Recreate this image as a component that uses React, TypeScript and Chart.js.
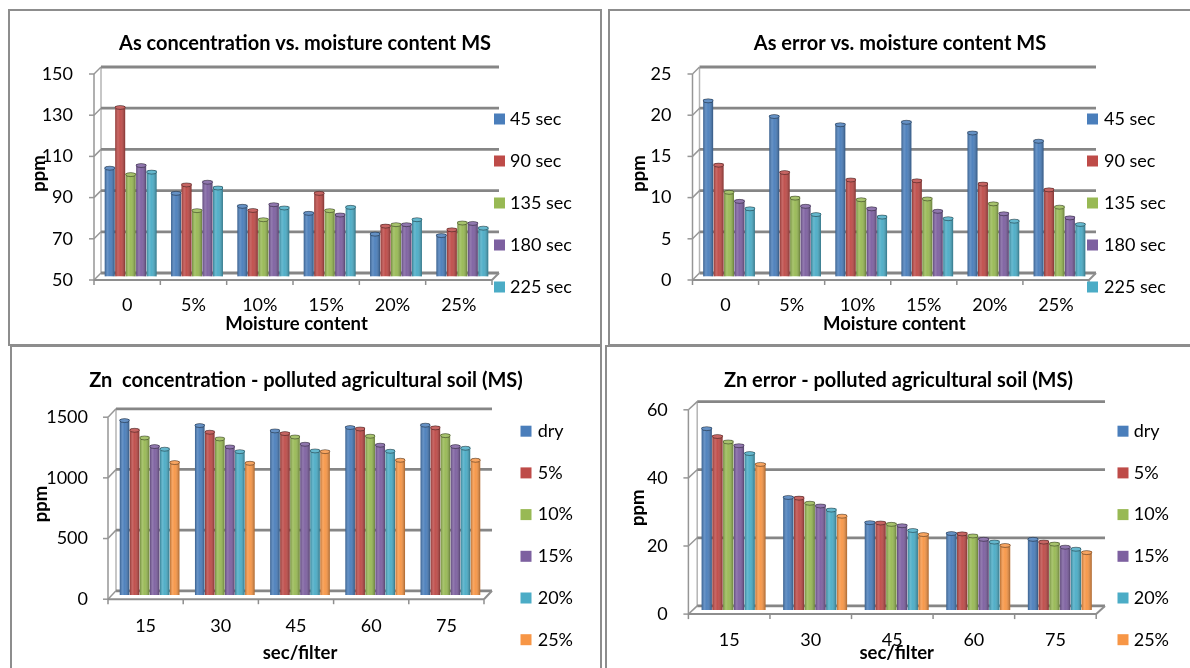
import React, { useEffect, useRef } from 'react';
import { Chart, registerables } from 'chart.js';

Chart.register(...registerables);

// ---------------- data ----------------
const moistureCategories = ['0', '5%', '10%', '15%', '20%', '25%'];
const exposureNames = ['45 sec', '90 sec', '135 sec', '180 sec', '225 sec'];

const asConc45 = [103.3, 91.1, 84.8, 81.4, 71.3, 70.6];
const asConc90 = [132.8, 95.2, 82.8, 91.1, 75.2, 73.4];
const asConc135 = [100.2, 82.7, 78.3, 82.7, 75.9, 76.7];
const asConc180 = [104.6, 96.5, 85.6, 80.6, 75.9, 76.5];
const asConc225 = [101.4, 93.7, 84.0, 84.3, 78.3, 74.2];
const asConcTicks = [50, 150, 20];

const asErr45 = [21.5, 19.6, 18.6, 18.9, 17.6, 16.6];
const asErr90 = [13.7, 12.8, 11.9, 11.8, 11.4, 10.7];
const asErr135 = [10.4, 9.7, 9.5, 9.6, 9.0, 8.6];
const asErr180 = [9.3, 8.7, 8.4, 8.1, 7.8, 7.3];
const asErr225 = [8.4, 7.7, 7.4, 7.2, 6.9, 6.5];
const asErrTicks = [0, 25, 5];

const filterCategories = ['15', '30', '45', '60', '75'];
const moistureNames = ['dry', '5%', '10%', '15%', '20%', '25%'];

const znConcDry = [1450, 1409, 1365, 1393, 1412];
const znConc5 = [1370, 1354, 1343, 1381, 1390];
const znConc10 = [1307, 1299, 1315, 1321, 1326];
const znConc15 = [1236, 1233, 1255, 1247, 1236];
const znConc20 = [1214, 1194, 1200, 1197, 1222];
const znConc25 = [1104, 1098, 1194, 1123, 1123];
const znConcTicks = [0, 1500, 500];

const znErrDry = [53.7, 33.5, 26.1, 22.9, 21.2];
const znErr5 = [51.4, 33.3, 26.0, 22.8, 20.4];
const znErr10 = [49.8, 31.8, 25.6, 22.2, 19.8];
const znErr15 = [48.7, 31.0, 25.2, 21.2, 18.9];
const znErr20 = [46.4, 29.8, 23.8, 20.4, 18.3];
const znErr25 = [43.2, 28.0, 22.6, 19.4, 17.3];
const znErrTicks = [0, 60, 20];

// ---------------- styles ----------------
const SERIES_COLORS = ['#4A7EBB', '#BE4B48', '#98B954', '#7D60A0', '#4BACC6', '#F79646'];
const FONT = 'Lato, "Open Sans", sans-serif';
const TITLE_SIZE = 20;
const AXIS_TITLE_SIZE = 18.5;
const TICK_SIZE = 18;
const LEGEND_SIZE = 18;

type Geo = {
  panel: [number, number, number, number];
  yw: number; pr: number; xh: number;
  titleTop: number; titleBottom: number;
  yTickPad: number; yTitlePad: number;
  xTickPad: number; xTitlePad: number;
  dx: number; dy: number;
  legendBoxX: number; legendTextX: number; legendY: number; legendStep: number;
  catPct: number;
};

type Spec = {
  id: string;
  title: string;
  xTitle: string;
  categories: string[];
  names: string[];
  series: number[][];
  ticks: number[];
  geo: Geo;
};

const specs: Spec[] = [
  {
    id: 'asConc',
    title: 'As concentration vs. moisture content MS',
    xTitle: 'Moisture content',
    categories: moistureCategories,
    names: exposureNames,
    series: [asConc45, asConc90, asConc135, asConc180, asConc225],
    ticks: asConcTicks,
    geo: {
      panel: [8, 9, 594, 337], yw: 87.5, pr: 104.5, xh: 67.5,
      titleTop: 21, titleBottom: 14.5, yTickPad: 24.5, yTitlePad: 17.5,
      xTickPad: 17.7, xTitlePad: 8.9, dx: 3.5, dy: 3.5,
      legendBoxX: 484, legendTextX: 500, legendY: 108, legendStep: 42, catPct: 0.79,
    },
  },
  {
    id: 'asErr',
    title: 'As error vs. moisture content MS',
    xTitle: 'Moisture content',
    categories: moistureCategories,
    names: exposureNames,
    series: [asErr45, asErr90, asErr135, asErr180, asErr225],
    ticks: asErrTicks,
    geo: {
      panel: [608, 9, 584, 337], yw: 86, pr: 97.5, xh: 67.5,
      titleTop: 21, titleBottom: 14.5, yTickPad: 24.5, yTitlePad: 17.6,
      xTickPad: 17.7, xTitlePad: 8.9, dx: 3.5, dy: 3.5,
      legendBoxX: 477, legendTextX: 494, legendY: 108, legendStep: 42, catPct: 0.79,
    },
  },
  {
    id: 'znConc',
    title: 'Zn  concentration - polluted agricultural soil (MS)',
    xTitle: 'sec/filter',
    categories: filterCategories,
    names: moistureNames,
    series: [znConcDry, znConc5, znConc10, znConc15, znConc20, znConc25],
    ticks: znConcTicks,
    geo: {
      panel: [10, 345, 592, 325], yw: 100, pr: 112, xh: 73,
      titleTop: 22, titleBottom: 20, yTickPad: 24, yTitlePad: 18.4,
      xTickPad: 19.9, xTitlePad: 3.6, dx: 4, dy: 4.2,
      legendBoxX: 508.5, legendTextX: 525.7, legendY: 84.2, legendStep: 41.7, catPct: 0.8,
    },
  },
  {
    id: 'znErr',
    title: 'Zn error - polluted agricultural soil (MS)',
    xTitle: 'sec/filter',
    categories: filterCategories,
    names: moistureNames,
    series: [znErrDry, znErr5, znErr10, znErr15, znErr20, znErr25],
    ticks: znErrTicks,
    geo: {
      panel: [605, 345, 587, 325], yw: 85.8, pr: 89.4, xh: 58,
      titleTop: 22, titleBottom: 12.7, yTickPad: 25, yTitlePad: 20.4,
      xTickPad: 19.2, xTitlePad: 3.6, dx: 4.4, dy: 4.1,
      legendBoxX: 510.5, legendTextX: 526.7, legendY: 84.2, legendStep: 41.7, catPct: 0.79,
    },
  },
];

// ---------------- plugins ----------------
function seg(ctx: CanvasRenderingContext2D, x1: number, y1: number, x2: number, y2: number) {
  ctx.beginPath();
  ctx.moveTo(x1, y1);
  ctx.lineTo(x2, y2);
  ctx.stroke();
}

const frame3d = {
  id: 'frame3d',
  beforeDatasetsDraw(chart: any, _args: any, opts: any) {
    const { ctx, chartArea } = chart;
    const { left, right } = chartArea;
    const ys = chart.scales.y;
    const dx = opts.dx, dy = opts.dy;
    const yTop = ys.getPixelForValue(ys.max);
    const yBot = ys.getPixelForValue(ys.min);
    ctx.save();
    ctx.lineCap = 'butt';
    // back wall left edge
    ctx.strokeStyle = '#b4b4b4';
    ctx.lineWidth = 1.5;
    seg(ctx, left + dx, yTop - dy, left + dx, yBot - dy);
    // back-wall gridlines
    ctx.strokeStyle = '#868686';
    ctx.lineWidth = 2.8;
    ys.ticks.forEach((t: any) => {
      const y = ys.getPixelForValue(t.value);
      seg(ctx, left + dx, y - dy, right + dx, y - dy);
    });
    // side connectors + front tick marks
    ctx.strokeStyle = '#969696';
    ctx.lineWidth = 1.5;
    ys.ticks.forEach((t: any) => {
      const y = ys.getPixelForValue(t.value);
      seg(ctx, left - dx, y + dy, left + dx, y - dy);
      seg(ctx, left - dx - 5, y + dy, left - dx, y + dy);
    });
    // front value axis
    seg(ctx, left - dx, yTop + dy, left - dx, yBot + dy);
    // floor front edge and right connector
    ctx.strokeStyle = '#8e8e8e';
    ctx.lineWidth = 2;
    seg(ctx, left - dx, yBot + dy, right - dx, yBot + dy);
    seg(ctx, right - dx, yBot + dy, right + dx, yBot - dy);
    // category tick marks
    ctx.lineWidth = 1.5;
    const n = chart.data.labels.length;
    const cw = (right - left) / n;
    for (let i = 0; i <= n; i++) {
      const x = left - dx + i * cw;
      seg(ctx, x, yBot + dy, x, yBot + dy + 5);
    }
    ctx.restore();
  },
  afterDatasetsDraw(chart: any) {
    const { ctx, chartArea } = chart;
    ctx.save();
    chart.data.datasets.forEach((ds: any, di: number) => {
      const meta = chart.getDatasetMeta(di);
      meta.data.forEach((bar: any) => {
        const p = bar.getProps(['x', 'y', 'base', 'width'], true);
        const x = p.x, y = p.y, width = p.width;
        const base = Math.min(p.base, chartArea.bottom);
        const l = x - width / 2;
        const g = ctx.createLinearGradient(l, 0, l + width, 0);
        g.addColorStop(0, 'rgba(0,0,0,0.25)');
        g.addColorStop(0.28, 'rgba(255,255,255,0.16)');
        g.addColorStop(0.5, 'rgba(255,255,255,0.04)');
        g.addColorStop(1, 'rgba(0,0,0,0.32)');
        ctx.fillStyle = g;
        ctx.fillRect(l, y, width, base - y);
        ctx.beginPath();
        ctx.ellipse(x, y + 1.5, width / 2, 2, 0, 0, Math.PI * 2);
        ctx.fillStyle = ds.backgroundColor;
        ctx.fill();
        ctx.fillStyle = 'rgba(255,255,255,0.15)';
        ctx.fill();
        ctx.strokeStyle = 'rgba(0,0,0,0.4)';
        ctx.lineWidth = 1;
        ctx.stroke();
      });
    });
    ctx.restore();
  },
};

const sideLegend = {
  id: 'sideLegend',
  afterDraw(chart: any, _args: any, opts: any) {
    const { ctx } = chart;
    ctx.save();
    ctx.font = `${LEGEND_SIZE}px ${FONT}`;
    ctx.textBaseline = 'middle';
    ctx.textAlign = 'left';
    chart.data.datasets.forEach((ds: any, i: number) => {
      const cy = opts.y + i * opts.step;
      ctx.fillStyle = ds.backgroundColor;
      ctx.fillRect(opts.boxX, cy - 5.5, 11, 11);
      ctx.fillStyle = '#000';
      ctx.fillText(ds.label, opts.textX, cy);
    });
    ctx.restore();
  },
};

// ---------------- components ----------------
function ChartPanel({ spec }: { spec: Spec }) {
  const ref = useRef<HTMLCanvasElement | null>(null);
  const [pl, pt, pw, ph] = spec.geo.panel;
  const cw = pw - 4;
  const ch = ph - 4;

  useEffect(() => {
    const g = spec.geo;
    const chart = new Chart(ref.current as HTMLCanvasElement, {
      type: 'bar',
      data: {
        labels: spec.categories,
        datasets: spec.series.map((values, i) => ({
          label: spec.names[i],
          data: values,
          base: spec.ticks[0],
          backgroundColor: SERIES_COLORS[i],
          borderWidth: 0,
          barPercentage: 0.95,
          categoryPercentage: g.catPct,
          yAxisID: 'y',
        })),
      },
      options: {
        responsive: false,
        animation: false,
        devicePixelRatio: 1,
        events: [],
        layout: { padding: 0 },
        plugins: {
          legend: { display: false },
          tooltip: { enabled: false },
          title: {
            display: true,
            text: spec.title,
            color: '#000',
            font: { family: FONT, size: TITLE_SIZE, weight: 'bold', lineHeight: 1.2 },
            padding: { top: g.titleTop, bottom: g.titleBottom },
          },
          frame3d: { dx: g.dx, dy: g.dy },
          sideLegend: { boxX: g.legendBoxX, textX: g.legendTextX, y: g.legendY, step: g.legendStep },
        } as any,
        scales: {
          x: {
            type: 'category',
            grid: { display: false, drawTicks: false },
            border: { display: false },
            ticks: {
              color: '#000',
              padding: g.xTickPad,
              labelOffset: -g.dx,
              maxRotation: 0,
              autoSkip: false,
              font: { family: FONT, size: TICK_SIZE, lineHeight: 1.2 },
            },
            title: {
              display: true,
              text: spec.xTitle,
              color: '#000',
              font: { family: FONT, size: AXIS_TITLE_SIZE, weight: 'bold', lineHeight: 1.2 },
              padding: { top: 0, bottom: g.xTitlePad },
            },
            afterFit: (s: any) => { s.height = g.xh; },
          },
          y: {
            type: 'linear',
            min: spec.ticks[0],
            max: spec.ticks[1],
            beginAtZero: false,
            grid: { display: false, drawTicks: false },
            border: { display: false },
            ticks: {
              stepSize: spec.ticks[2],
              color: '#000',
              padding: g.yTickPad,
              labelOffset: g.dy,
              callback: (v: any) => String(v),
              font: { family: FONT, size: TICK_SIZE, lineHeight: 1.2 },
            },
            title: {
              display: true,
              text: 'ppm',
              color: '#000',
              font: { family: FONT, size: AXIS_TITLE_SIZE, weight: 'bold', lineHeight: 1.2 },
              padding: { top: g.yTitlePad, bottom: 0 },
            },
            afterFit: (s: any) => { s.width = g.yw; },
          },
          yRight: {
            type: 'linear',
            position: 'right',
            display: true,
            grid: { display: false, drawTicks: false },
            border: { display: false },
            ticks: { display: false },
            afterFit: (s: any) => { s.width = g.pr; },
          },
        } as any,
      },
      plugins: [frame3d, sideLegend],
    } as any);
    return () => chart.destroy();
  }, [spec]);

  return (
    <div
      style={{
        position: 'absolute',
        left: pl,
        top: pt,
        width: pw,
        height: ph,
        border: '2px solid #8d8d8d',
        boxSizing: 'border-box',
        background: '#fff',
      }}
    >
      <canvas ref={ref} width={cw} height={ch} style={{ display: 'block', width: cw, height: ch }} />
    </div>
  );
}

export default function App() {
  return (
    <div
      style={{
        position: 'fixed',
        left: 0,
        top: 0,
        width: 1190,
        height: 668,
        overflow: 'hidden',
        background: '#fff',
      }}
    >
      {specs.map((s) => (
        <ChartPanel key={s.id} spec={s} />
      ))}
    </div>
  );
}
